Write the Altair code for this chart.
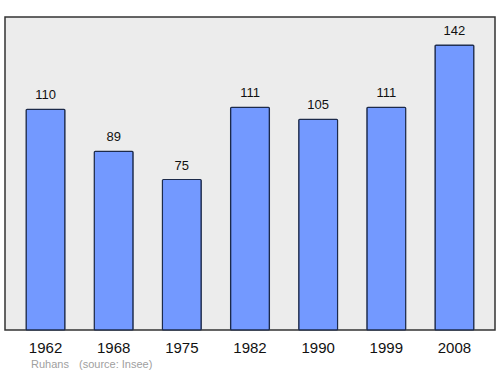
import altair as alt
import pandas as pd

years = ["1962", "1968", "1975", "1982", "1990", "1999", "2008"]
population = [110, 89, 75, 111, 105, 111, 142]
footnote_parts = ["Ruhans", "(source: Insee)"]
footnote_x = [26, 74]

df = pd.DataFrame({"year": years, "pop": population})

FONT = "Liberation Sans"

x = alt.X("year:N", sort=years,
          scale=alt.Scale(paddingInner=0.43, paddingOuter=0.31),
          axis=alt.Axis(title=None, labelAngle=0, domain=False, ticks=False,
                        labelFontSize=15, labelFont=FONT, labelColor="#111",
                        labelPadding=10))
y = alt.Y("pop:Q", scale=alt.Scale(domain=[0, 156], nice=False, zero=True),
          axis=None)

bars = alt.Chart(df).mark_bar(color="#7399ff", stroke="#1c2a4a",
                              strokeWidth=1.2, cornerRadius=1).encode(x=x, y=y)

labels = alt.Chart(df).mark_text(dy=-14, fontSize=13, font=FONT,
                                 color="#111").encode(x=x, y=y, text="pop:Q")

foot_df = pd.DataFrame({"t": footnote_parts, "px": footnote_x})
foot = alt.Chart(foot_df).mark_text(
    align="left", baseline="middle", fontSize=11, font=FONT, color="#a0a0a0"
).encode(x=alt.X("px:Q", scale=None), y=alt.value(348), text="t:N")

chart = alt.layer(bars, labels, foot).properties(
    width=490, height=313,
    autosize=alt.AutoSizeParams(type="none"),
    padding={"left": 5, "top": 17, "right": 5, "bottom": 44},
    background="white",
).configure_view(fill="#ececec", stroke="#333333", strokeWidth=1.5)

chart.save("out.html", embed_options={"renderer": "svg", "actions": False})
